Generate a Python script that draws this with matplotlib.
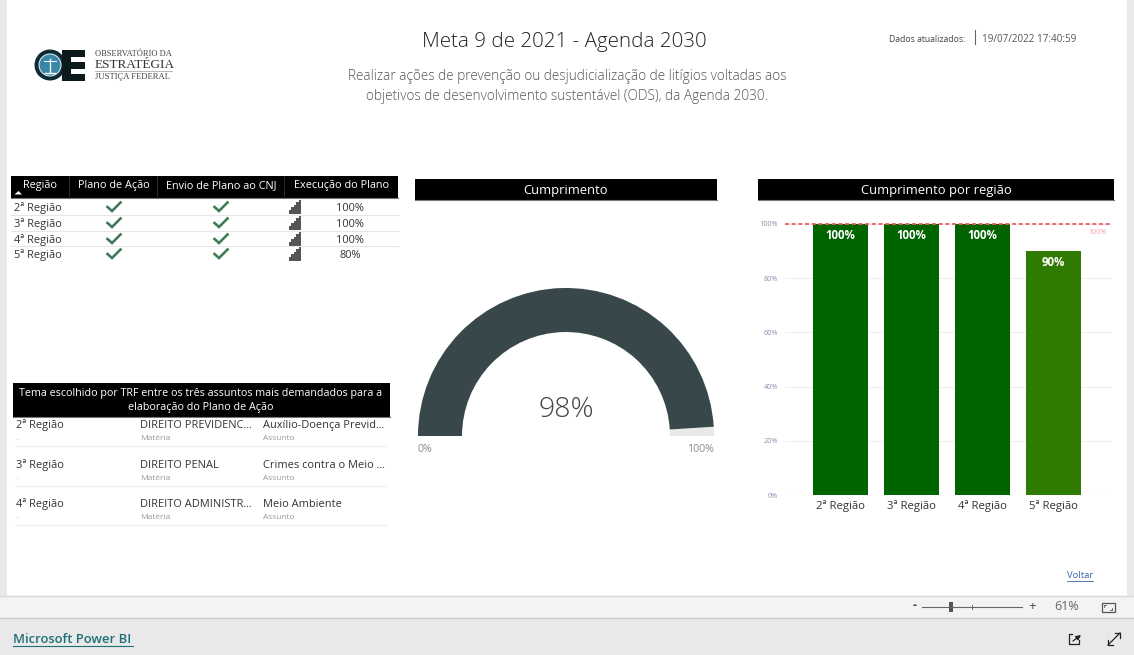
import matplotlib
matplotlib.use('Agg')
import matplotlib.pyplot as plt
from matplotlib.patches import Rectangle, Circle, Wedge

W, H = 1134, 655
plt.rcParams['font.family'] = ['Open Sans', 'DejaVu Sans']

# data
regioes = ['2ª Região', '3ª Região', '4ª Região', '5ª Região']
plano_acao = [True, True, True, True]
envio_cnj = [True, True, True, True]
execucao = [100, 100, 100, 80]
cumprimento = [100, 100, 100, 90]
cor_barras = ['#006400', '#006400', '#006400', '#2f7a00']
meta = 100
cumprimento_total = 98
y_ticks = [0, 20, 40, 60, 80, 100]

colunas_plano = ['Região', 'Plano de Ação', 'Envio de Plano ao CNJ', 'Execução do Plano']
temas_regiao = ['2ª Região', '3ª Região', '4ª Região']
temas_materia = ['DIREITO PREVIDENC...', 'DIREITO PENAL', 'DIREITO ADMINISTR...']
temas_assunto = ['Auxílio-Doença Previd...', 'Crimes contra o Meio ...', 'Meio Ambiente']


def px_axes(fig, x0, y0, x1, y1):
    # axes placed by pixel box, y counted from the top like the screenshot
    return fig.add_axes([x0 / W, 1 - y1 / H, (x1 - x0) / W, (y1 - y0) / H])


def black_bar(ax, x0, y0, x1, y1):
    ax.add_patch(Rectangle((x0, y0), x1 - x0, y1 - y0, fc='black', ec='none'))
    ax.plot([x0, x1], [y1, y1], color='#777777', lw=0.8)


def signal_icon(ax, x, y):
    # little stair icon of the "Execução" column
    for i, h in enumerate([4, 7, 9, 12, 14]):
        ax.add_patch(Rectangle((x + i * 2.5, y - h), 2.5, h, fc='#555555', ec='none'))


def check(ax, x, y):
    ax.plot([x - 6.5, x - 2, x + 6.5], [y, y + 4, y - 4.5], color='#3f7d58', lw=1.9, solid_joinstyle='miter')


fig = plt.figure(figsize=(W / 100, H / 100), dpi=100, facecolor='white')
bg = fig.add_axes([0, 0, 1, 1])
bg.set_xlim(0, W)
bg.set_ylim(H, 0)
bg.axis('off')

# page frame and Power BI footer
bg.add_patch(Rectangle((0, 0), 7, 596, fc='#e9e9e9', ec='none'))
bg.add_patch(Rectangle((1127, 0), 7, 596, fc='#e9e9e9', ec='none'))
bg.add_patch(Rectangle((0, 596), W, 22, fc='#f3f3f3', ec='none'))
bg.add_patch(Rectangle((0, 618), W, 37, fc='#e9e9e9', ec='none'))
bg.plot([0, W], [596, 596], color='#d8d8d8', lw=1)
bg.plot([0, W], [618, 618], color='#c8c8c8', lw=1)

# header
bg.text(564, 42, 'Meta 9 de 2021 - Agenda 2030', ha='center', va='center', fontsize=14.8, color='#222222', fontweight='light')
bg.text(567.5, 86.5, 'Realizar ações de prevenção ou desjudicialização de litígios voltadas aos\nobjetivos de desenvolvimento sustentável (ODS), da Agenda 2030.',
        ha='center', va='center', fontsize=9.8, color='#555555', linespacing=1.5, fontweight='light')
bg.text(889, 39.5, 'Dados atualizados:', ha='left', va='center', fontsize=6.2, color='#444444')
bg.plot([974.5, 974.5], [30, 44], color='#666666', lw=0.8)
bg.text(982, 39, '19/07/2022 17:40:59', ha='left', va='center', fontsize=7.1, color='#555555')

# logo
bg.add_patch(Circle((50, 65), 15.5, fc='#0f2a33', ec='none'))
bg.add_patch(Circle((50, 65), 11, fc='#3b87a8', ec='#d5e4ea', lw=0.8))
bg.plot([44, 56], [61, 61], color='white', lw=0.7)
bg.plot([50, 50], [59, 73], color='white', lw=1)
bg.plot([45, 55], [73, 73], color='white', lw=1)
bg.add_patch(Rectangle((62, 50), 23, 31, fc='#0d1a1d', ec='none'))
for yy in [57, 69]:
    bg.add_patch(Rectangle((71, yy), 14, 4.5, fc='white', ec='none'))
bg.text(95, 53.5, 'OBSERVATÓRIO DA', ha='left', va='center', fontsize=6, family='Liberation Serif', color='#444444')
bg.text(95, 64.5, 'ESTRATÉGIA', ha='left', va='center', fontsize=9.5, family='Liberation Serif', color='#333333')
bg.plot([95, 172], [71, 71], color='#999999', lw=0.5)
bg.text(95, 77, 'JUSTIÇA FEDERAL', ha='left', va='center', fontsize=6.2, family='Liberation Serif', color='#444444')

# table of plans
black_bar(bg, 11, 176, 398, 198)
for x in [69, 157, 284]:
    bg.plot([x, x], [176, 198], color='#333333', lw=0.6)
for x, lab in zip([40, 113.5, 221, 341.5], colunas_plano):
    bg.text(x, 185.5, lab, ha='center', va='center', fontsize=7.8, color='white')
bg.fill([14.5, 22, 18.5], [194.5, 194.5, 191], color='white', lw=0)
linhas_y = [207, 223, 239, 254]
for y, reg, pa, ec, ex in zip(linhas_y, regioes, plano_acao, envio_cnj, execucao):
    bg.text(14, y + 1.2, reg, ha='left', va='center', fontsize=7.9, color='#333333')
    if pa:
        check(bg, 114, y)
    if ec:
        check(bg, 221, y)
    signal_icon(bg, 288.5, y + 6.5)
    bg.text(350, y + 1.2, f'{ex}%', ha='center', va='center', fontsize=7.9, color='#333333')
for y in [215, 231, 246]:
    bg.plot([11, 398], [y, y], color='#e6e6e6', lw=0.8)

# table of themes
black_bar(bg, 13, 383, 390, 417)
bg.text(201, 400.5, 'Tema escolhido por TRF entre os três assuntos mais demandados para a\nelaboração do Plano de Ação',
        ha='center', va='center', fontsize=7.75, color='white', linespacing=1.3)
for y, reg, mat, ass in zip([425.5, 465, 504.5], temas_regiao, temas_materia, temas_assunto):
    bg.text(16, y, reg, ha='left', va='center', fontsize=7.9, color='#333333')
    bg.text(16, y + 12.5, '.', ha='left', va='center', fontsize=5.5, color='#999999')
    bg.text(140, y, mat, ha='left', va='center', fontsize=7.9, color='#333333')
    bg.text(140, y + 13, 'Matéria', ha='left', va='center', fontsize=6, color='#999999')
    bg.text(263, y, ass, ha='left', va='center', fontsize=7.9, color='#333333')
    bg.text(263, y + 13, 'Assunto', ha='left', va='center', fontsize=6, color='#999999')
for y in [446, 486, 525]:
    bg.plot([16, 386], [y, y], color='#ececec', lw=0.8)

# section titles
black_bar(bg, 415, 179, 717, 200)
bg.text(566, 190.5, 'Cumprimento', ha='center', va='center', fontsize=9.4, color='white')
black_bar(bg, 758, 179, 1114, 200)
bg.text(936, 190.5, 'Cumprimento por região', ha='center', va='center', fontsize=9.4, color='white')

# gauge
ga = px_axes(fig, 418, 288, 714, 436)
ga.set_xlim(-1, 1)
ga.set_ylim(0, 1)
ga.axis('off')
raio_int = 104 / 148
ga.add_patch(Wedge((0, 0), 1, 0, 180, width=1 - raio_int, fc='#e9e9e9', ec='none', clip_on=False))
ga.add_patch(Wedge((0, 0), 1, 180 * (1 - cumprimento_total / 100), 180, width=1 - raio_int, fc='#37474a', ec='none', clip_on=False))
bg.text(566, 410, f'{cumprimento_total}%', ha='center', va='center', fontsize=20.5, color='#444444', fontweight='light')
bg.text(418, 449.5, '0%', ha='left', va='center', fontsize=7.7, color='#888888')
bg.text(714, 449.5, '100%', ha='right', va='center', fontsize=7.7, color='#888888')

# bar chart
ax = px_axes(fig, 785, 224, 1112, 495)
ax.patch.set_alpha(0)
x = list(range(len(regioes)))
ax.bar(x, cumprimento, width=0.775, color=cor_barras, zorder=3)
ax.set_xlim(-0.78, 3.82)
ax.set_ylim(0, 100)
ax.set_yticks(y_ticks)
ax.set_yticklabels([f'{t}%' for t in y_ticks], fontsize=5.2, color='#8c8cb0')
ax.set_xticks(x)
ax.set_xticklabels(regioes, fontsize=8.2, color='#333333')
ax.tick_params(length=0)
ax.tick_params(axis='y', pad=5)
ax.tick_params(axis='x', pad=4)
ax.grid(axis='y', color='#f0f0f0', lw=0.8, zorder=0)
ax.set_axisbelow(True)
for s in ax.spines.values():
    s.set_visible(False)
ax.axhline(meta, color='#f05a5f', lw=1.3, ls=(0, (2.2, 1.5)), zorder=4, clip_on=False)
ax.text(3.74, meta - 3, f'{meta}%', ha='right', va='center', fontsize=5, color='#f79aa8')
for xi, v in zip(x, cumprimento):
    ax.text(xi, v - 4.1, f'{v}%', ha='center', va='center', fontsize=8.3, color='white', fontweight='bold', zorder=5)

# front layer for the footer controls
bg.text(1067, 576, 'Voltar', ha='left', va='center', fontsize=6.8, color='#3a5fb0')
bg.plot([1067, 1093], [581, 581], color='#3a5fb0', lw=0.6)
bg.text(13, 639.5, 'Microsoft Power BI', ha='left', va='center', fontsize=9.4, color='#1f6f78', fontweight='semibold')
bg.plot([13, 133], [646, 646], color='#1f6f78', lw=0.8)
bg.text(915, 606, '-', ha='center', va='center', fontsize=9, color='#444444', fontweight='bold')
bg.plot([922, 1022], [607, 607], color='#666666', lw=0.8)
bg.add_patch(Rectangle((949, 602), 4, 10, fc='#555555', ec='none'))
bg.plot([972, 972], [605, 609], color='#666666', lw=0.7)
bg.text(1032, 606.5, '+', ha='center', va='center', fontsize=9.5, color='#444444')
bg.text(1067, 607, '61%', ha='center', va='center', fontsize=9, color='#666666')
# fit to page icon
bg.add_patch(Rectangle((1101.5, 603), 13, 9, fc='none', ec='#555555', lw=0.9))
bg.plot([1104, 1104, 1106], [607, 605, 605], color='#555555', lw=0.6)
bg.plot([1112, 1112, 1110], [608, 610, 610], color='#555555', lw=0.6)
# share and expand icons
bg.plot([1079, 1079, 1069, 1069, 1072], [640, 644, 644, 634, 634], color='#222222', lw=0.9)
bg.annotate('', xy=(1081, 635), xytext=(1073, 641), arrowprops=dict(arrowstyle='-|>', lw=0.9, color='#222222', mutation_scale=7, shrinkA=0, shrinkB=0))
bg.plot([1108, 1120], [645, 633], color='#222222', lw=0.9)
bg.plot([1108, 1108, 1113], [640, 645, 645], color='#222222', lw=0.9)
bg.plot([1115, 1120, 1120], [633, 633, 638], color='#222222', lw=0.9)

fig.savefig('out.png', dpi=100)
